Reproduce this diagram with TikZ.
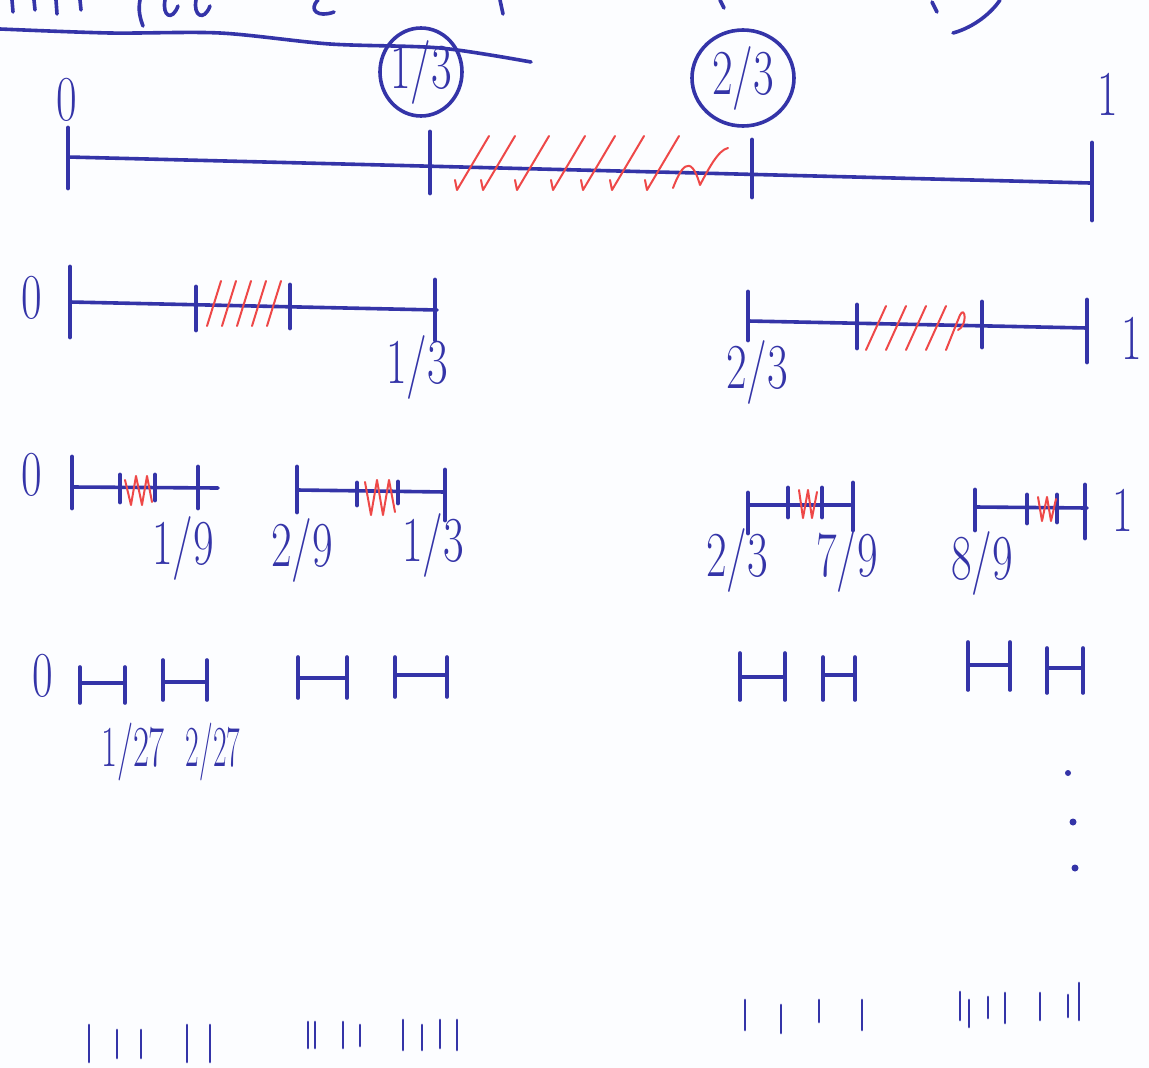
\documentclass[tikz,border=0pt]{standalone}
\usepackage{fontspec}
\definecolor{penblue}{RGB}{52,52,168}
\definecolor{penred}{RGB}{238,72,72}
\definecolor{paper}{RGB}{252,253,255}
\begin{document}
\begin{tikzpicture}[x=1pt,y=-1pt,
  pen/.style={draw=penblue, line width=3.6pt, line cap=round, line join=round},
  tk/.style={draw=penblue, line width=4.8pt, line cap=round},
  hatch/.style={draw=penred, line width=2pt, line cap=round, line join=round},
  lbl/.style={text=penblue, font=\fontsize{64}{64}\selectfont, inner sep=0pt, xscale=0.7},
  slbl/.style={text=penblue, font=\fontsize{58}{58}\selectfont, inner sep=0pt, xscale=0.6}]
\fill[paper] (0,0) rectangle (1149,1068);
\useasboundingbox (0,0) rectangle (1149,1068);

% --- top fragments (cut-off heading) ---
\draw[pen] plot[smooth] coordinates {(0,29) (110,33) (220,33) (330,44) (440,48) (531,62)};
\draw[pen] (953,33) .. controls (975,27) and (992,12) .. (1000,0);
\draw[pen] (12,0) -- (13,12);
\draw[pen] (34,0) -- (35,10);
\draw[pen] (56,0) -- (57,14);
\draw[pen] (80,0) -- (81,10);
\draw[pen] (140,0) .. controls (138,10) and (140,18) .. (143,26);
\draw[pen] (165,0) .. controls (162,16) and (172,22) .. (178,6);
\draw[pen] (196,0) .. controls (193,16) and (204,22) .. (210,6);
\draw[pen] (318,0) .. controls (308,10) and (318,18) .. (334,12);
\draw[pen] (500,0) -- (503,14);
\draw[pen] (720,0) -- (724,8);
\draw[pen] (932,2) -- (937,12);

% --- row 1 ---
\coordinate (a0) at (68,157);
\coordinate (a1) at (1090,183);
\draw[pen] (a0) -- (a1);
\draw[tk] (68,128) -- (68,188);
\draw[tk] (430,132) -- (430,193);
\draw[tk] (752,140) -- (752,197);
\draw[tk] (1092,143) -- (1092,220);
\foreach \x in {457,483,517,553,583,612,647}
  \draw[hatch] (\x-2,180) -- (\x,190) -- (\x+32,136);
\draw[hatch] (673,188) .. controls (680,170) and (690,150) .. (700,185) .. controls (708,170) and (718,150) .. (728,148);
\node[lbl] (r1z) at (67,100) {0};
\node[lbl] (r1a) at (421,72) {1/3};
\draw[pen] (r1a.center) ellipse [x radius=41, y radius=44];
\node[lbl] (r1b) at (743,78) {2/3};
\draw[pen] (r1b.center) ellipse [x radius=51, y radius=48];
\node[lbl] (r1o) at (1108,94) {1};

% --- row 2 ---
\draw[pen] (70,302) -- (437,310);
\draw[tk] (70,267) -- (70,337);
\draw[tk] (196,287) -- (196,330);
\draw[tk] (290,285) -- (290,328);
\draw[tk] (435,280) -- (435,340);
\foreach \x in {207,222,237,252,267}
  \draw[hatch] (\x,326) -- (\x+14,281);
\node[lbl] (r2z) at (32,298) {0};
\node[lbl] (r2a) at (417,367) {1/3};

\draw[pen] (748,321) -- (1087,328);
\draw[tk] (748,292) -- (748,340);
\draw[tk] (857,305) -- (857,348);
\draw[tk] (982,302) -- (982,347);
\draw[tk] (1087,300) -- (1087,362);
\foreach \x in {866,886,906,926}
  \draw[hatch] (\x,350) -- (\x+20,306);
\draw[hatch] (946,350) -- (960,315) .. controls (965,305) and (968,325) .. (958,330);
\node[lbl] (r2b) at (757,372) {2/3};
\node[lbl] (r2o) at (1132,338) {1};

% --- row 3 ---
\draw[pen] (72,487) -- (218,488);
\draw[tk] (72,457) -- (72,508);
\draw[tk] (120,475) -- (120,502);
\draw[tk] (155,475) -- (155,500);
\draw[tk] (198,467) -- (198,508);
\draw[hatch] (125,480) -- (131,505) -- (136,476) -- (142,505) -- (147,476) -- (152,502);
\node[lbl] (r3z) at (32,475) {0};
\node[lbl] (r3a) at (183,548) {1/9};

\draw[pen] (297,490) -- (445,492);
\draw[tk] (297,467) -- (297,512);
\draw[tk] (357,483) -- (357,505);
\draw[tk] (398,482) -- (398,503);
\draw[tk] (445,470) -- (445,520);
\draw[hatch] (365,482) -- (371,515) -- (377,480) -- (383,515) -- (389,480) -- (395,512);
\node[lbl] (r3b) at (302,550) {2/9};
\node[lbl] (r3c) at (433,545) {1/3};

\draw[pen] (748,505) -- (850,505);
\draw[tk] (748,493) -- (748,533);
\draw[tk] (788,488) -- (788,517);
\draw[tk] (822,488) -- (822,517);
\draw[tk] (853,483) -- (853,530);
\draw[hatch] (799,490) -- (803,518) -- (808,490) -- (812,518) -- (817,492);
\node[lbl] (r3d) at (737,560) {2/3};
\node[lbl] (r3e) at (847,560) {7/9};

\draw[pen] (975,507) -- (1087,508);
\draw[tk] (975,490) -- (975,530);
\draw[tk] (1027,495) -- (1027,523);
\draw[tk] (1057,495) -- (1057,522);
\draw[tk] (1085,485) -- (1085,538);
\draw[hatch] (1038,497) -- (1042,521) -- (1047,497) -- (1051,521) -- (1056,499);
\node[lbl] (r3f) at (982,563) {8/9};
\node[lbl] (r3o) at (1123,510) {1};

% --- row 4 ---
\node[lbl] (r4z) at (43,676) {0};
\foreach \l/\r/\t/\b/\m in {80/125/667/703/683, 163/207/660/700/682, 298/347/657/698/678, 395/447/657/697/675,
                            740/785/653/700/677, 823/855/657/700/675, 968/1010/642/690/665, 1047/1083/648/693/668}{
  \draw[pen] (\l,\t) -- (\l,\b);
  \draw[pen] (\r,\t) -- (\r,\b);
  \draw[pen] (\l,\m) -- (\r,\m);
}
\node[slbl] (r4a) at (133,752) {1/27};
\node[slbl,xscale=0.85] (r4b) at (213,752) {2/27};

% --- dots ---
\fill[penblue] (1068,773) circle (3);
\fill[penblue] (1073,822) circle (3.5);
\fill[penblue] (1075,868) circle (3.5);

% --- bottom row ---
\foreach \x/\t/\b in {89/1025/1062, 117/1030/1058, 141/1030/1058, 187/1025/1062, 210/1025/1062,
                      308/1022/1048, 315/1022/1048, 343/1022/1048, 360/1025/1046,
                      403/1020/1050, 422/1025/1050, 440/1020/1048, 457/1020/1050,
                      745/1000/1030, 781/1005/1033, 819/1000/1022, 862/1000/1030,
                      960/992/1020, 969/1000/1027, 988/997/1018, 1005/993/1023, 1040/993/1020, 1068/995/1017, 1079/983/1020}
  \draw[pen,line width=2.8pt] (\x,\t) -- (\x,\b);
\end{tikzpicture}
\end{document}
